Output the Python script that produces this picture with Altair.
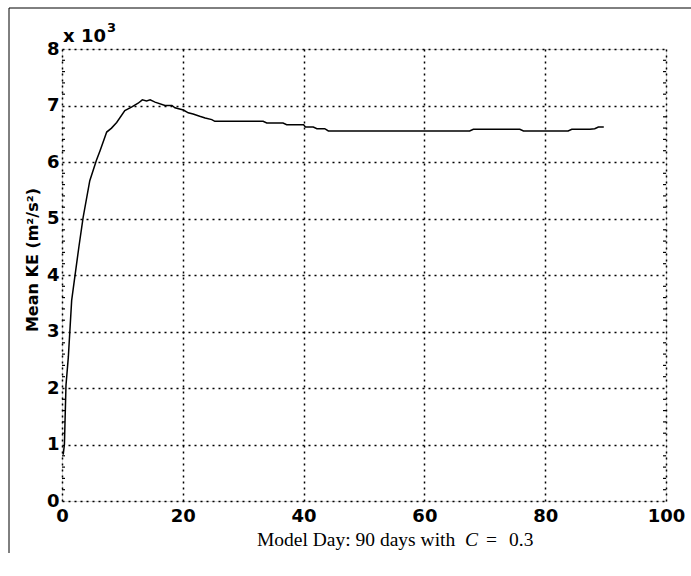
import altair as alt
import pandas as pd

# Model day and mean KE (x 10^3 m^2/s^2)
days = [0.2, 0.4, 0.66, 1.05, 1.6, 2.15, 2.8, 3.5, 4.6, 5.7, 6.3, 7.4, 8.2, 9.05,
        10.4, 11.5, 12.6, 13.3, 14.0, 14.6, 15.4, 17.05, 18.2, 18.7, 20.1, 20.9,
        21.7, 22.8, 23.7, 24.8, 25.3, 33.3, 33.9, 36.6, 37.2, 40.0, 40.3, 41.6,
        42.2, 43.5, 44.1, 51.0, 60.0, 67.5, 68.1, 75.8, 76.4, 83.8, 84.4, 87.4,
        88.2, 88.8, 89.7]
ke = [0.82, 1.0, 2.05, 2.55, 3.55, 3.99, 4.5, 5.02, 5.67, 6.03, 6.2, 6.53, 6.6, 6.70,
      6.91, 6.97, 7.04, 7.1, 7.08, 7.1, 7.06, 7.0, 7.0, 6.96, 6.92, 6.87,
      6.85, 6.81, 6.78, 6.75, 6.72, 6.72, 6.69, 6.69, 6.66, 6.66, 6.62, 6.62,
      6.59, 6.59, 6.55, 6.55, 6.55, 6.55, 6.58, 6.58, 6.55, 6.55, 6.58, 6.58,
      6.59, 6.62, 6.62]

x_ticks = [0, 20, 40, 60, 80, 100]
y_ticks = [0, 1, 2, 3, 4, 5, 6, 7, 8]
y_minor = [round(i * 0.2, 1) for i in range(41) if i % 5 != 0]

W, H = 604, 452
PL, PT = 62, 49

df = pd.DataFrame({"day": days, "ke": ke})
minor_df = pd.DataFrame({"v": y_minor})

xscale = alt.Scale(domain=[0, 100], nice=False, zero=False)
yscale = alt.Scale(domain=[0, 8], nice=False, zero=False)

label_font = "DejaVu Sans"
grid_kw = dict(grid=True, gridColor="black", gridDash=[2, 4], gridWidth=1.5,
               gridOpacity=1, ticks=False, domain=False, labelFont=label_font,
               labelFontWeight="bold", labelFontSize=18, labelColor="black",
               labelFlush=False, format="d", title=None)

line = alt.Chart(df).mark_line(color="black", strokeWidth=1.5, clip=True).encode(
    x=alt.X("day:Q", scale=xscale, axis=alt.Axis(values=x_ticks, labelPadding=6, **grid_kw)),
    y=alt.Y("ke:Q", scale=yscale, axis=alt.Axis(values=y_ticks, labelPadding=3, **grid_kw)),
)

minor_left = alt.Chart(minor_df).mark_rule(color="black", strokeWidth=1.2).encode(
    y=alt.Y("v:Q", scale=yscale), x=alt.value(0), x2=alt.value(3))
minor_right = alt.Chart(minor_df).mark_rule(color="black", strokeWidth=1.2).encode(
    y=alt.Y("v:Q", scale=yscale), x=alt.value(W), x2=alt.value(W - 3))

# figure frame lines
frame_top = alt.Chart(pd.DataFrame({"a": [0]})).mark_rule(color="black", strokeWidth=1, clip=False).encode(
    x=alt.value(9 - PL), x2=alt.value(691 - PL), y=alt.value(8 - PT))
frame_left = alt.Chart(pd.DataFrame({"a": [0]})).mark_rule(color="black", strokeWidth=1, clip=False).encode(
    x=alt.value(9 - PL), y=alt.value(8 - PT), y2=alt.value(553 - PT))

def txt(s, x, y, **kw):
    return alt.Chart(pd.DataFrame({"t": [s]})).mark_text(clip=False, color="black", **kw).encode(
        text="t:N", x=alt.value(x), y=alt.value(y))

exp_main = txt("x 10", 1, -7, font=label_font, fontWeight="bold", fontSize=18,
               align="left", baseline="alphabetic")
exp_sup = txt("3", 45, -17, font=label_font, fontWeight="bold", fontSize=13,
              align="left", baseline="alphabetic")
ytitle = txt("Mean KE (m²/s²)", -29, 211, font=label_font, fontWeight="bold",
             fontSize=16, angle=270, align="center", baseline="middle")
serif = dict(font="Liberation Serif", fontSize=19.5, baseline="alphabetic", align="left")
xt1 = txt("Model Day: 90 days with", 257 - PL, 546 - PT, **serif)
xt2 = txt("C", 465 - PL, 546 - PT, fontStyle="italic", **serif)
xt3 = txt("=", 486 - PL, 546 - PT, **serif)
xt4 = txt("0.3", 509 - PL, 546 - PT, **serif)

chart = alt.layer(
    line, minor_left, minor_right, frame_top, frame_left,
    exp_main, exp_sup, ytitle, xt1, xt2, xt3, xt4
).properties(
    width=W, height=H,
    autosize=alt.AutoSizeParams(type="none"),
    padding={"left": PL, "top": PT, "right": 691 - PL - W, "bottom": 576 - PT - H},
).configure_view(
    stroke="black", strokeWidth=1.8
).configure(background="white")

chart.save("out.html", embed_options={"renderer": "svg", "actions": False})
